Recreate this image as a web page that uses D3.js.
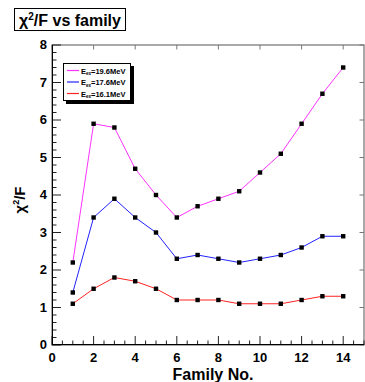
<!DOCTYPE html>
<html>
<head>
<meta charset="utf-8">
<script src="https://cdn.jsdelivr.net/npm/d3@7"></script>
<style>
  body { margin: 0; background: #fff; }
  text { font-family: "Liberation Sans", Arial, sans-serif; font-weight: bold; }
</style>
</head>
<body>
<script>
// chi2/F values per family, one array per excitation energy
var families = [1, 2, 3, 4, 5, 6, 7, 8, 9, 10, 11, 12, 13, 14];
var e196 = [2.2, 5.9, 5.8, 4.7, 4.0, 3.4, 3.7, 3.9, 4.1, 4.6, 5.1, 5.9, 6.7, 7.4];
var e176 = [1.4, 3.4, 3.9, 3.4, 3.0, 2.3, 2.4, 2.3, 2.2, 2.3, 2.4, 2.6, 2.9, 2.9];
var e161 = [1.1, 1.5, 1.8, 1.7, 1.5, 1.2, 1.2, 1.2, 1.1, 1.1, 1.1, 1.2, 1.3, 1.3];
var seriesNames = ["19.6MeV", "17.6MeV", "16.1MeV"];
var xTicks = [0, 2, 4, 6, 8, 10, 12, 14];
var yTicks = [0, 1, 2, 3, 4, 5, 6, 7, 8];

(function(){
	var W = 365, H = 382;
	var svg = d3.select("body").append("svg")
			.attr("width", W)
			.attr("height", H);

	var x = d3.scaleLinear().domain([0, 15]).range([52, 364]);
	var y = d3.scaleLinear().domain([0, 8]).range([345, 45]);

	// frame
	svg.append("rect")
			.attr("x", x(0)).attr("y", y(8))
			.attr("width", x(15) - x(0)).attr("height", y(0) - y(8))
			.attr("fill", "none")
			.attr("stroke", "#555")
			.attr("stroke-width", 1);

	// minor / major ticks
	var g = svg.append("g").attr("stroke", "#222").attr("stroke-width", 1);
	d3.range(0, 15.01, 0.5).forEach(function(v) {
		var len = (v % 2 === 0) ? 9 : 4.5;
		g.append("line").attr("x1", x(v)).attr("x2", x(v))
				.attr("y1", y(0)).attr("y2", y(0) - len);
		if (v % 2 === 0) g.append("line").attr("x1", x(v)).attr("x2", x(v))
				.attr("y1", y(8)).attr("y2", y(8) + 4.5).attr("stroke", "#777");
	});
	d3.range(0, 40.01, 1).forEach(function(i) {
		var v = i / 5;
		var len = (i % 5 === 0) ? 9 : 4.5;
		g.append("line").attr("x1", x(0)).attr("x2", x(0) + len)
				.attr("y1", y(v)).attr("y2", y(v));
		if (i % 5 === 0) g.append("line").attr("x1", x(15)).attr("x2", x(15) - 4.5)
				.attr("y1", y(v)).attr("y2", y(v)).attr("stroke", "#777");
	});
	svg.append("line").attr("x1", x(0) + 0.5).attr("x2", x(0) + 0.5)
			.attr("y1", y(8)).attr("y2", y(0)).attr("stroke", "#000");
	svg.append("line").attr("x1", x(0)).attr("x2", x(15))
			.attr("y1", y(0) - 0.5).attr("y2", y(0) - 0.5).attr("stroke", "#000");

	// tick labels
	svg.selectAll(".xl").data(xTicks).enter().append("text")
			.attr("x", function(d) { return x(d); })
			.attr("y", 362)
			.attr("text-anchor", "middle")
			.attr("font-size", 13)
			.text(function(d) { return d; });
	svg.selectAll(".yl").data(yTicks).enter().append("text")
			.attr("x", 47)
			.attr("y", function(d) { return y(d) + 4; })
			.attr("text-anchor", "end")
			.attr("font-size", 13)
			.text(function(d) { return d; });

	// axis titles
	svg.append("text")
			.attr("x", 213).attr("y", 380)
			.attr("text-anchor", "middle")
			.attr("font-size", 16)
			.text("Family No.");
	var yt = svg.append("text")
			.attr("transform", "translate(25,200) rotate(-90)")
			.attr("text-anchor", "middle")
			.attr("font-size", 15);
	yt.append("tspan").text("\u03c7");
	yt.append("tspan").attr("font-size", 9).attr("dy", -6).text("2");
	yt.append("tspan").attr("dy", 6).text("/F");

	// series
	var series = [
		{ name: seriesNames[0], values: e196, color: "#ff33ff" },
		{ name: seriesNames[1], values: e176, color: "#2222ff" },
		{ name: seriesNames[2], values: e161, color: "#ff2222" }
	];
	var line = d3.line()
			.x(function(d, i) { return x(families[i]); })
			.y(function(d) { return y(d); });

	series.forEach(function(s) {
		svg.append("path")
				.attr("d", line(s.values))
				.attr("fill", "none")
				.attr("stroke", s.color)
				.attr("stroke-width", 1);
	});
	series.forEach(function(s) {
		svg.selectAll(null).data(s.values).enter().append("rect")
				.attr("x", function(d, i) { return x(families[i]) - 2.2; })
				.attr("y", function(d) { return y(d) - 2.2; })
				.attr("width", 4.4).attr("height", 4.4)
				.attr("fill", "#000");
	});

	// legend
	svg.append("rect").attr("x", 66).attr("y", 66).attr("width", 68).attr("height", 38).attr("fill", "#000");
	svg.append("rect").attr("x", 63.5).attr("y", 63.5).attr("width", 67).attr("height", 37)
			.attr("fill", "#fff").attr("stroke", "#000").attr("stroke-width", 1);
	series.forEach(function(s, i) {
		var ly = 70.5 + i * 11.5;
		svg.append("line").attr("x1", 67).attr("x2", 79)
				.attr("y1", ly).attr("y2", ly)
				.attr("stroke", s.color).attr("stroke-width", 1.2);
		var t = svg.append("text").attr("x", 81).attr("y", ly + 3).attr("font-size", 7.5);
		t.append("tspan").text("E");
		t.append("tspan").attr("font-size", 4.5).attr("dy", 1.5).text("ex");
		t.append("tspan").attr("dy", -1.5).text("=" + s.name);
	});

	// title box
	svg.append("rect").attr("x", 14.5).attr("y", 8.5).attr("width", 111).attr("height", 22)
			.attr("fill", "#fff").attr("stroke", "#000").attr("stroke-width", 1);
	var tt = svg.append("text").attr("x", 70).attr("y", 26)
			.attr("text-anchor", "middle").attr("font-size", 16);
	tt.append("tspan").text("\u03c7");
	tt.append("tspan").attr("font-size", 10).attr("dy", -6).text("2");
	tt.append("tspan").attr("dy", 6).text("/F vs family");
})();
</script>
</body>
</html>
